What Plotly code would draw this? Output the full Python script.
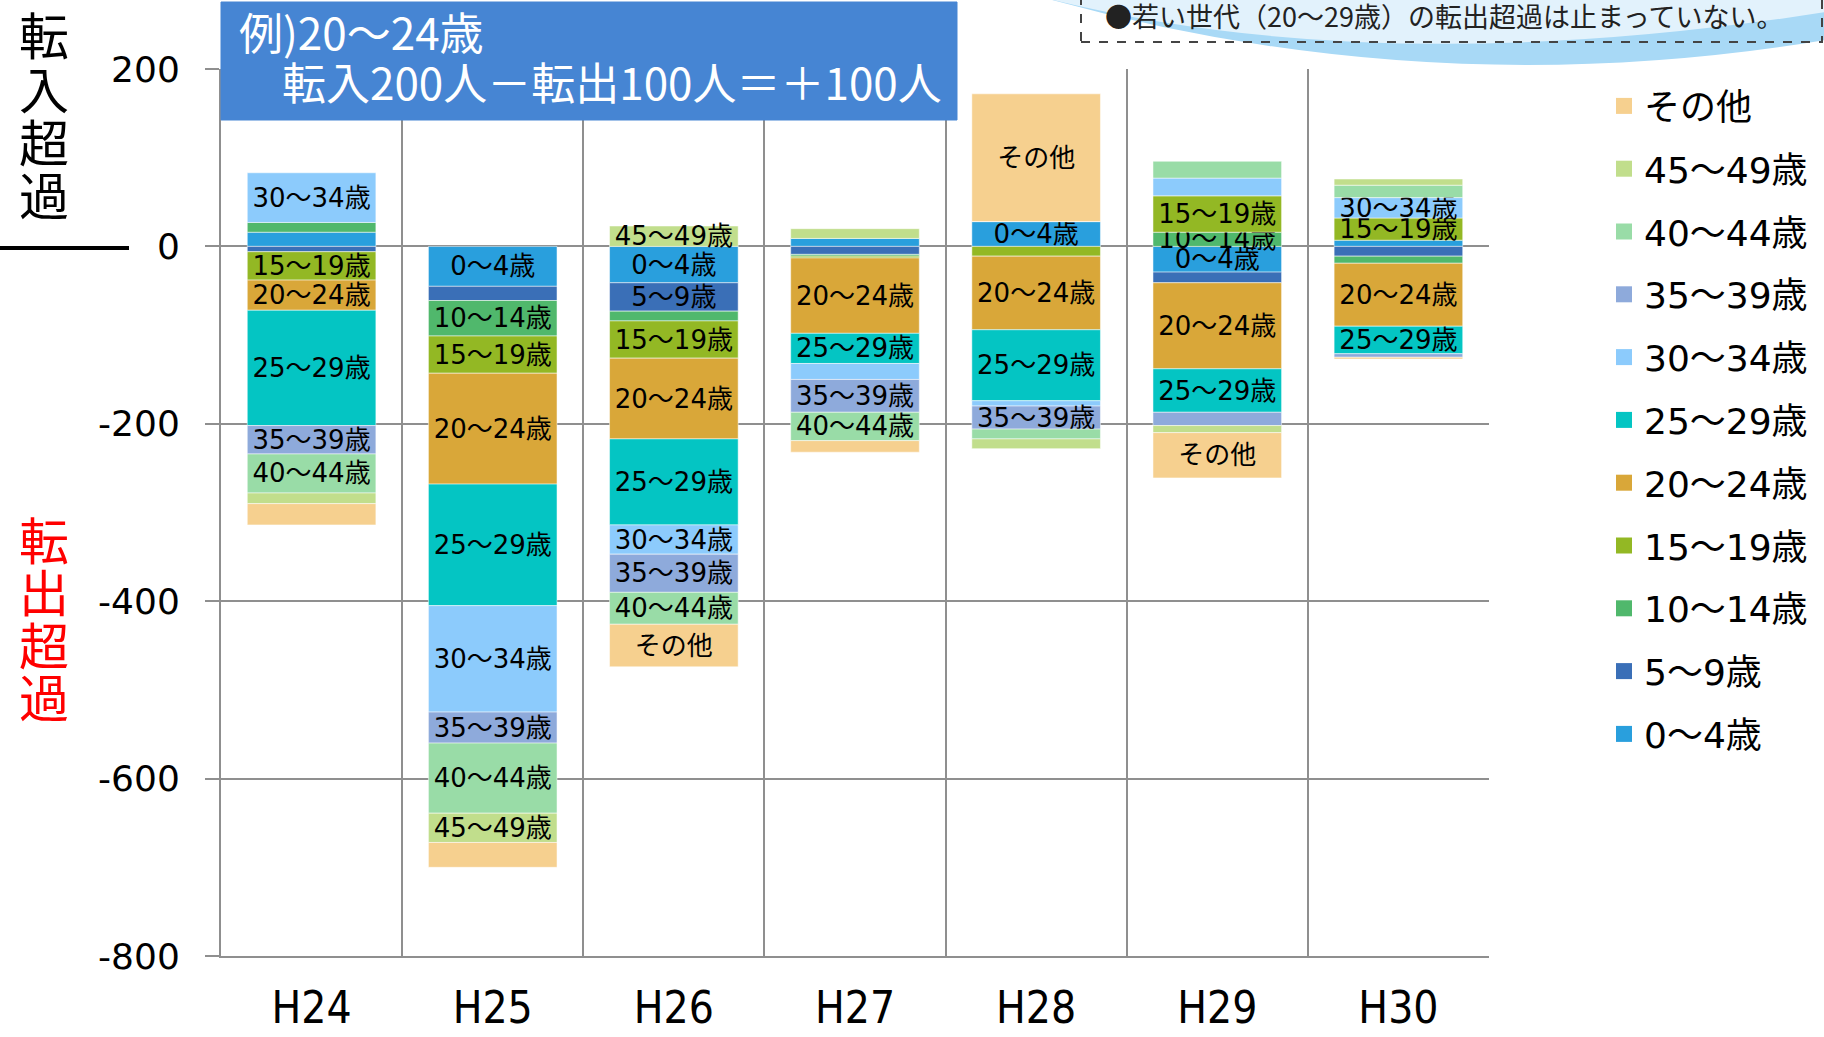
import plotly.graph_objects as go

# ---------------- data ----------------
categories = ["H24", "H25", "H26", "H27", "H28", "H29", "H30"]
age_groups = ["0～4歳", "5～9歳", "10～14歳", "15～19歳", "20～24歳", "25～29歳",
              "30～34歳", "35～39歳", "40～44歳", "45～49歳", "その他"]

v_0_4 = [16, -45, -41, 9, 28, -29, 7]
v_5_9 = [-6, -16, -32, -9, 0, -12, -11]
v_10_14 = [11, -40, -11, -2, 0, 16, -8]
v_15_19 = [-32, -42, -42, -2, -11, 41, 25]
v_20_24 = [-34, -125, -91, -85, -83, -97, -71]
v_25_29 = [-130, -137, -97, -34, -80, -49, -31]
v_30_34 = [56, -120, -33, -18, -6, 20, 23]
v_35_39 = [-32, -35, -43, -37, -26, -15, -4]
v_40_44 = [-44, -79, -36, -32, -11, 19, 14]
v_45_49 = [-12, -33, 23, 11, -11, -8, 7]
v_other = [-24, -28, -48, -13, 144, -51, -2]

# which segments carry a label (1 = show)
lbl_0_4 = [0, 1, 1, 0, 1, 1, 0]
lbl_5_9 = [0, 0, 1, 0, 0, 0, 0]
lbl_10_14 = [0, 1, 0, 0, 0, 1, 0]
lbl_15_19 = [1, 1, 1, 0, 0, 1, 1]
lbl_20_24 = [1, 1, 1, 1, 1, 1, 1]
lbl_25_29 = [1, 1, 1, 1, 1, 1, 1]
lbl_30_34 = [1, 1, 1, 0, 0, 0, 1]
lbl_35_39 = [1, 1, 1, 1, 1, 0, 0]
lbl_40_44 = [1, 1, 1, 1, 0, 0, 0]
lbl_45_49 = [0, 1, 1, 0, 0, 0, 0]
lbl_other = [0, 0, 1, 0, 1, 1, 0]

y_tickvals = [200, 0, -200, -400, -600, -800]
y_ticktext = ["200", "0", "-200", "-400", "-600", "-800"]

values = [v_0_4, v_5_9, v_10_14, v_15_19, v_20_24, v_25_29,
          v_30_34, v_35_39, v_40_44, v_45_49, v_other]
labels = [lbl_0_4, lbl_5_9, lbl_10_14, lbl_15_19, lbl_20_24, lbl_25_29,
          lbl_30_34, lbl_35_39, lbl_40_44, lbl_45_49, lbl_other]
colors = ["#299fdd", "#3a6fb7", "#50b86c", "#93b824", "#d9a739", "#04c5c3",
          "#8ccbfc", "#8eaadb", "#99dca7", "#c1de8c", "#f6d08f"]

# ---------------- layout geometry ----------------
W, H = 1824, 1037
ML, MR, MT, MB = 221, 335, 69, 81
PW = W - ML - MR
PH = H - MT - MB


def px(x):
    return (x - ML) / PW


def py(y):
    return (H - MB - y) / PH


LAB_FONT = "DejaVu Sans, Noto Sans CJK JP, sans-serif"
CJK = "Noto Sans CJK JP, sans-serif"
GRID = "#8f8f8f"

fig = go.Figure()
n = len(age_groups)
for i, (name, vals, lbl, col) in enumerate(zip(age_groups, values, labels, colors)):
    fig.add_trace(go.Bar(
        x=categories, y=vals, name=name, showlegend=False,
        marker=dict(color=col, line=dict(color="rgba(255,255,255,0.5)", width=1)),
        text=[name if f else "" for f in lbl],
        textposition="inside", insidetextanchor="middle",
        textangle=0, constraintext="none",
        insidetextfont=dict(family=LAB_FONT, size=26, color="#000000"),
        hoverinfo="x+y+name",
    ))
# legend entries (square swatches), listed top to bottom in reverse order
for i, (name, col) in enumerate(zip(age_groups, colors)):
    fig.add_trace(go.Scatter(
        x=[None], y=[None], mode="markers", name=name,
        legendgroup=name, legendrank=n - i,
        marker=dict(symbol="square", size=22, color=col, line=dict(width=0)),
        hoverinfo="skip",
    ))

fig.update_layout(
    width=W, height=H,
    barmode="relative", bargap=0.29,
    plot_bgcolor="white", paper_bgcolor="white",
    margin=dict(l=ML, r=MR, t=MT, b=MB, autoexpand=False),
    legend=dict(
        traceorder="grouped", tracegroupgap=13,
        x=px(1604), xanchor="left", y=py(76), yanchor="top",
        font=dict(family=LAB_FONT, size=36, color="#000000"),
        bgcolor="rgba(0,0,0,0)",
    ),
    xaxis=dict(
        type="category", tickson="boundaries", showgrid=True,
        gridcolor=GRID, gridwidth=2, showline=True, linecolor=GRID, linewidth=2,
        ticks="", ticklabelstandoff=12,
        tickfont=dict(family="Liberation Sans Narrow, DejaVu Sans Condensed, Arial Narrow, sans-serif",
                      size=44, color="#000000"),
    ),
    yaxis=dict(
        range=[-800, 200], tickvals=y_tickvals, ticktext=y_ticktext,
        showgrid=True, gridcolor=GRID, gridwidth=2, zeroline=False,
        showline=True, linecolor=GRID, linewidth=2,
        ticks="outside", ticklen=14, tickcolor=GRID, tickwidth=2,
        ticklabelstandoff=18,
        tickfont=dict(family="DejaVu Sans, sans-serif", size=36, color="#000000"),
    ),
    font=dict(family=CJK),
)

shapes = []
outer = "M {a},{b} Q {c},{d} {e},{f} L {g},{h} Z".format(
    a=px(1045), b=py(-2), c=px(1430), d=py(106), e=px(1826), f=py(40), g=px(1826), h=py(-2))
inner = "M {a},{b} Q {c},{d} {e},{f} L {g},{h} Z".format(
    a=px(1045), b=py(-2), c=px(1380), d=py(82), e=px(1826), f=py(12), g=px(1826), h=py(-2))
shapes.append(dict(type="path", xref="paper", yref="paper", path=outer,
                   fillcolor="#a8d9f6", line=dict(width=0), layer="above"))
shapes.append(dict(type="path", xref="paper", yref="paper", path=inner,
                   fillcolor="#e2f2fc", line=dict(width=0), layer="above"))
shapes.append(dict(type="rect", xref="paper", yref="paper",
                   x0=px(1081), x1=px(1822), y0=py(42), y1=py(-5),
                   line=dict(color="#444444", width=2, dash="dash"), layer="above"))
shapes.append(dict(type="rect", xref="paper", yref="paper",
                   x0=px(221), x1=px(957), y0=py(120), y1=py(2),
                   fillcolor="#4685d3", line=dict(color="#4685d3", width=1), layer="above"))
shapes.append(dict(type="line", xref="paper", yref="paper",
                   x0=px(0), x1=px(129), y0=py(248), y1=py(248),
                   line=dict(color="#000000", width=4), layer="above"))
fig.update_layout(shapes=shapes)

ann = []
ann.append(dict(xref="paper", yref="paper", x=px(237), y=py(31), xanchor="left", yanchor="middle",
                text="例)20～24歳", showarrow=False,
                font=dict(family=CJK, size=44, color="white")))
ann.append(dict(xref="paper", yref="paper", x=px(280), y=py(81), xanchor="left", yanchor="middle",
                text="転入200人－転出100人＝＋100人", showarrow=False,
                font=dict(family=CJK, size=44, color="white")))
ann.append(dict(xref="paper", yref="paper", x=px(1103), y=py(15), xanchor="left", yanchor="middle",
                text="●若い世代（20～29歳）の転出超過は止まっていない。", showarrow=False,
                font=dict(family=CJK, size=27, color="#222222")))
for ch, yy in zip("転入超過", [33, 87, 140, 193]):
    ann.append(dict(xref="paper", yref="paper", x=px(43.5), y=py(yy), xanchor="center", yanchor="middle",
                    text=ch, showarrow=False, font=dict(family=CJK, size=50, color="#000000")))
for ch, yy in zip("転出超過", [538, 590, 643, 695]):
    ann.append(dict(xref="paper", yref="paper", x=px(43.5), y=py(yy), xanchor="center", yanchor="middle",
                    text=ch, showarrow=False, font=dict(family=CJK, size=50, color="#ff0000")))
fig.update_layout(annotations=ann)

fig.write_html("out.html", config={"displayModeBar": False},
               post_script="document.body.style.margin='0';document.body.style.overflow='hidden';")
